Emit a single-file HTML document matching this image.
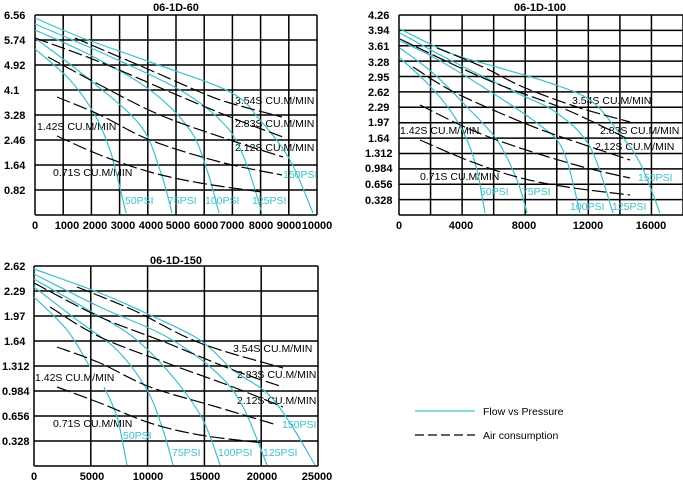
<!DOCTYPE html>
<html><head><meta charset="utf-8"><style>
body{margin:0;background:#fff}
svg text{font-family:"Liberation Sans",sans-serif;font-size:10.5px}
.t{font-weight:bold}
.t text{font-size:11px}
text.t{font-size:11px}
.c{fill:#3cc0cc}
</style></head><body>
<svg id="s" width="683" height="485" viewBox="0 0 683 485" xmlns="http://www.w3.org/2000/svg">
<g id="g"></g>
<text class="t" x="176" y="11" text-anchor="middle">06-1D-60</text>
<text class="t" x="540" y="11" text-anchor="middle">06-1D-100</text>
<text class="t" x="176" y="264" text-anchor="middle">06-1D-150</text>
<g class="t">
<text x="4" y="19">6.56</text><text x="4" y="44">5.74</text><text x="4" y="69">4.92</text><text x="4" y="94">4.1</text><text x="4" y="119">3.28</text><text x="4" y="144">2.46</text><text x="4" y="169">1.64</text><text x="4" y="194">0.82</text>
<text x="35" y="229" text-anchor="middle">0</text>
<text x="67" y="229" text-anchor="middle">1000</text><text x="95" y="229" text-anchor="middle">2000</text><text x="123" y="229" text-anchor="middle">3000</text><text x="151" y="229" text-anchor="middle">4000</text><text x="178" y="229" text-anchor="middle">5000</text><text x="206" y="229" text-anchor="middle">6000</text><text x="232" y="229" text-anchor="middle">7000</text><text x="261" y="229" text-anchor="middle">8000</text><text x="289" y="229" text-anchor="middle">9000</text><text x="317" y="229" text-anchor="middle">10000</text>
<text x="368" y="19">4.26</text><text x="368" y="34">3.94</text><text x="368" y="50">3.61</text><text x="368" y="66">3.28</text><text x="368" y="81">2.95</text><text x="368" y="96">2.62</text><text x="368" y="111">2.29</text><text x="368" y="126">1.97</text><text x="368" y="142">1.64</text><text x="365" y="157">1.312</text><text x="365" y="172">0.984</text><text x="365" y="188">0.656</text><text x="365" y="204">0.328</text>
<text x="399" y="229" text-anchor="middle">0</text><text x="461" y="229" text-anchor="middle">4000</text><text x="524" y="229" text-anchor="middle">8000</text><text x="588" y="229" text-anchor="middle">12000</text><text x="651" y="229" text-anchor="middle">16000</text>
<text x="4" y="270">2.62</text><text x="4" y="295">2.29</text><text x="4" y="320">1.97</text><text x="4" y="345">1.64</text><text x="2" y="370">1.312</text><text x="2" y="395">0.984</text><text x="2" y="420">0.656</text><text x="2" y="445">0.328</text>
<text x="34" y="480" text-anchor="middle">0</text><text x="92" y="480" text-anchor="middle">5000</text><text x="148" y="480" text-anchor="middle">10000</text><text x="205" y="480" text-anchor="middle">15000</text><text x="262" y="480" text-anchor="middle">20000</text><text x="317" y="480" text-anchor="middle">25000</text>
</g>
<g>
<text x="235" y="104">3.54S CU.M/MIN</text><text x="235" y="127">2.83S CU.M/MIN</text><text x="235" y="151">2.12S CU.M/MIN</text><text x="37" y="130">1.42S CU.M/MIN</text><text x="53" y="176">0.71S CU.M/MIN</text>
<text class="c" x="283" y="178">150PSI</text><text class="c" x="125" y="204">50PSI</text><text class="c" x="168" y="204">75PSI</text><text class="c" x="205" y="204">100PSI</text><text class="c" x="252" y="204">125PSI</text>

<text x="572" y="104">3.54S CU.M/MIN</text><text x="600" y="134">2.83S CU.M/MIN</text><text x="595" y="150">2.12S CU.M/MIN</text><text x="400" y="134">1.42S CU.M/MIN</text><text x="420" y="180">0.71S CU.M/MIN</text>
<text class="c" x="638" y="181">150PSI</text><text class="c" x="480" y="195">50PSI</text><text class="c" x="522" y="195">75PSI</text><text class="c" x="570" y="210">100PSI</text><text class="c" x="612" y="210">125PSI</text>

<text x="233" y="352">3.54S CU.M/MIN</text><text x="237" y="378">2.83S CU.M/MIN</text><text x="237" y="404">2.12S CU.M/MIN</text><text x="35" y="381">1.42S CU.M/MIN</text><text x="53" y="427">0.71S CU.M/MIN</text>
<text class="c" x="282" y="428">150PSI</text><text class="c" x="123" y="439">50PSI</text><text class="c" x="172" y="456">75PSI</text><text class="c" x="218" y="456">100PSI</text><text class="c" x="263" y="456">125PSI</text>

<line x1="415" y1="411" x2="475" y2="411" stroke="#3cc0cc" stroke-width="1.2"/>
<text x="483" y="415">Flow vs Pressure</text>
<line x1="415" y1="435" x2="475" y2="435" stroke="#000" stroke-width="1.2" stroke-dasharray="9,4"/>
<text x="483" y="439">Air consumption</text>
</g>
<g id="cv"></g>
</svg>
<script>
var NS="http://www.w3.org/2000/svg",g=document.getElementById('g'),cv=document.getElementById('cv');
function L(x1,y1,x2,y2){var l=document.createElementNS(NS,'line');l.setAttribute('x1',x1);l.setAttribute('y1',y1);l.setAttribute('x2',x2);l.setAttribute('y2',y2);l.setAttribute('stroke','#000');l.setAttribute('stroke-width','1.5');g.appendChild(l);}
function grid(x0,x1,y0,y1,nx,ny){for(var i=0;i<=nx;i++){var x=x0+(x1-x0)*i/nx;L(x,y0,x,y1);}for(var j=0;j<=ny;j++){var y=y0+(y1-y0)*j/ny;L(x0,y,x1,y);}}
grid(35,317,15,215,10,8);
grid(399,683,15,215,9,13);
grid(34,318,266,466,5,8);
function P(pts,dash){var d="M"+pts[0][0]+","+pts[0][1];for(var i=0;i<pts.length-1;i++){var p0=pts[i-1]||pts[i],p1=pts[i],p2=pts[i+1],p3=pts[i+2]||p2;d+=" C"+(p1[0]+(p2[0]-p0[0])/6)+","+(p1[1]+(p2[1]-p0[1])/6)+" "+(p2[0]-(p3[0]-p1[0])/6)+","+(p2[1]-(p3[1]-p1[1])/6)+" "+p2[0]+","+p2[1];}
var p=document.createElementNS(NS,'path');p.setAttribute('d',d);p.setAttribute('fill','none');p.setAttribute('stroke',dash?'#000':'#3cc0cc');p.setAttribute('stroke-width','1.2');if(dash)p.setAttribute('stroke-dasharray','14,4');cv.appendChild(p);}
P([[35,18],[80,37],[150,62],[230,92],[260,120],[290,160],[313,213]]);
P([[35,24],[100,52],[180,90],[225,125],[245,160],[262,213]]);
P([[35,30],[90,55],[150,90],[190,130],[207,170],[219,213]]);
P([[35,38],[90,80],[140,125],[160,170],[172,213]]);
P([[35,49],[70,80],[95,115],[110,150],[118,180],[126,213]]);
P([[75,38],[150,70],[200,92],[230,103],[282,117]],1);
P([[35,38],[100,62],[170,92],[230,117],[283,137]],1);
P([[48,57],[100,85],[160,115],[230,140],[283,157]],1);
P([[57,97],[100,115],[150,140],[220,162],[282,175]],1);
P([[57,136],[100,155],[150,172],[200,183],[262,192]],1);
P([[400,29],[450,53],[500,68],[550,83],[590,100],[617,130],[640,163],[660,213]]);
P([[400,33],[450,60],[517,93],[557,113],[590,147],[613,213]]);
P([[400,41],[433,57],[483,87],[537,123],[563,150],[580,213]]);
P([[400,48],[433,73],[467,107],[497,140],[517,180],[527,213]]);
P([[400,58],[427,83],[450,110],[467,140],[477,170],[485,213]]);
P([[437,48],[483,67],[523,87],[577,107],[630,122]],1);
P([[400,39],[450,63],[500,85],[567,110],[630,140]],1);
P([[413,67],[450,90],[500,113],[550,133],[630,160]],1);
P([[420,105],[467,128],[517,147],[583,167],[630,178]],1);
P([[420,140],[467,160],[517,177],[567,187],[630,195]],1);
P([[34,269],[100,293],[150,315],[200,340],[233,370],[267,393],[290,423],[315,465]]);
P([[34,274],[100,307],[167,337],[217,373],[243,407],[267,465]]);
P([[34,279],[83,307],[133,337],[173,377],[203,420],[220,465]]);
P([[34,287],[77,320],[117,350],[147,390],[163,430],[173,465]]);
P([[34,297],[67,330],[90,367]]);
P([[104,387],[117,417],[127,465]]);
P([[77,287],[133,310],[200,343],[283,368]],1);
P([[34,283],[100,317],[167,343],[233,370],[283,387]],1);
P([[50,307],[100,337],[167,363],[233,387],[283,407]],1);
P([[57,347],[100,363],[150,387],[217,407],[277,425]],1);
P([[57,387],[100,403],[150,423],[200,435],[263,443]],1);
</script>
</body></html>
